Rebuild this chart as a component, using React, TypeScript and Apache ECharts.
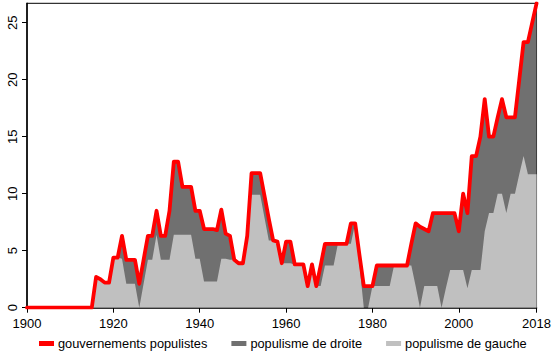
import React, { useEffect, useRef } from "react";
import * as echarts from "echarts";

// Years 1900..2018 (x categories)
const years: number[] = Array.from({ length: 119 }, (_, i) => 1900 + i);

// Total populist governments (red line), one value per year 1900..2018
const totalValues: number[] = [
  0, 0, 0, 0, 0, 0, 0, 0, 0, 0, 0, 0, 0, 0, 0, 0,
  2.7, 2.5, 2.2, 2.2, 4.4, 4.4, 6.3, 4.2, 4.2, 4.2, 2.1, 4.2, 6.3, 6.3,
  8.5, 6.3, 6.3, 8.5, 12.8, 12.8, 10.6, 10.6, 10.6, 8.5,
  8.5, 6.9, 6.9, 6.9, 6.8, 8.6, 6.5, 6.3, 4.2, 3.9,
  3.9, 6.3, 11.8, 11.8, 11.8, 9.8, 7.8, 5.9, 5.8, 3.9,
  5.8, 5.8, 3.8, 3.8, 3.8, 1.9, 3.8, 1.9, 3.7, 5.6,
  5.6, 5.6, 5.6, 5.6, 5.6, 7.4, 7.4, 4.6, 1.9, 1.9,
  1.9, 3.7, 3.7, 3.7, 3.7, 3.7, 3.7, 3.7, 3.7, 5.6,
  7.4, 7.1, 6.9, 6.7, 8.3, 8.3, 8.3, 8.3, 8.3, 8.3,
  6.7, 10.0, 8.3, 13.3, 13.3, 15.0, 18.3, 15.0, 15.0, 16.7,
  18.3, 16.7, 16.7, 16.7, 20.0, 23.3, 23.3, 25.0, 26.7,
];

// Left-wing populism (light grey area, bottom of stack)
const gaucheValues: number[] = [
  0, 0, 0, 0, 0, 0, 0, 0, 0, 0, 0, 0, 0, 0, 0, 0,
  2.7, 2.5, 2.2, 2.2, 4.4, 4.4, 4.3, 2.1, 2.1, 2.1, 0, 2.1, 4.2, 4.2,
  6.4, 4.2, 4.2, 4.2, 6.4, 6.4, 6.4, 6.4, 6.4, 4.3,
  4.3, 2.3, 2.3, 2.3, 2.3, 4.3, 4.3, 4.2, 4.2, 3.9,
  3.9, 6.3, 9.9, 9.9, 9.9, 7.9, 5.9, 5.9, 5.8, 3.9,
  3.9, 3.9, 3.8, 3.8, 3.8, 1.9, 3.8, 1.9, 1.9, 3.7,
  3.7, 3.7, 5.6, 5.6, 5.6, 5.6, 7.4, 3.7, 0, 0,
  1.9, 1.9, 1.9, 1.9, 1.9, 3.7, 3.7, 3.7, 3.7, 3.7,
  1.9, 0, 1.9, 1.9, 1.9, 1.9, 0, 1.7, 3.3, 3.3,
  3.3, 3.3, 1.7, 3.3, 3.3, 3.3, 6.7, 8.3, 8.3, 10.0,
  10.0, 8.3, 10.0, 10.0, 11.7, 13.3, 11.7, 11.7, 11.7,
];

// Right-wing populism (dark grey) = total minus left-wing
const droiteValues: number[] = totalValues.map((t, i) =>
  Math.max(0, Math.round((t - gaucheValues[i]) * 10) / 10)
);

const xTicks: number[] = [1900, 1920, 1940, 1960, 1980, 2000, 2018];
const yTicks: number[] = [0, 5, 10, 15, 20, 25];

const seriesNames = [
  "gouvernements populistes",
  "populisme de droite",
  "populisme de gauche",
];

const FONT = "'Liberation Sans', Arial, sans-serif";

export default function App() {
  const ref = useRef<HTMLDivElement>(null);

  useEffect(() => {
    if (!ref.current) return;
    const chart = echarts.init(ref.current, undefined, { renderer: "svg" });
    const pair = (arr: number[]) => years.map((y, i) => [y, arr[i]]);
    // manual stack: droite sits on top of gauche
    const droiteTop = gaucheValues.map((g, i) => Math.round((g + droiteValues[i]) * 10) / 10);

    chart.setOption({
      animation: false,
      backgroundColor: "#ffffff",
      grid: {
        left: 27,
        right: 16,
        top: 3.3,
        bottom: 45.3,
        show: true,
        borderColor: "#000",
        borderWidth: 1,
        backgroundColor: "transparent",
      },
      legend: {
        left: 34,
        top: 332,
        itemGap: 24,
        itemWidth: 15,
        itemHeight: 5,
        icon: "rect",
        data: seriesNames,
        textStyle: { fontFamily: FONT, fontSize: 12.8, color: "#000", padding: [0, 0, 0, -1] },
      },
      xAxis: {
        type: "value",
        min: 1900,
        max: 2018,
        splitLine: { show: false },
        axisLine: { show: true, lineStyle: { color: "#000", width: 1.5 } },
        axisTick: { show: true, length: 5, lineStyle: { color: "#000" }, customValues: xTicks },
        axisLabel: {
          customValues: xTicks,
          fontFamily: FONT,
          fontSize: 13,
          color: "#000",
          margin: 9,
          formatter: (v: number) => String(v),
        },
      },
      yAxis: {
        type: "value",
        min: 0,
        max: 26.7,
        splitLine: { show: false },
        axisLine: { show: true, lineStyle: { color: "#000", width: 1.5 } },
        axisTick: { show: true, length: 5, lineStyle: { color: "#000" }, customValues: yTicks },
        axisLabel: {
          customValues: yTicks,
          rotate: 90,
          fontFamily: FONT,
          fontSize: 13,
          color: "#000",
          margin: 8,
          formatter: (v: number) => String(v),
        },
      },
      series: [
        {
          name: seriesNames[1],
          type: "line",
          data: pair(droiteTop),
          showSymbol: false,
          symbol: "none",
          lineStyle: { width: 0 },
          itemStyle: { color: "#707070" },
          areaStyle: { color: "#707070", opacity: 1 },
          z: 1,
        },
        {
          name: seriesNames[2],
          type: "line",
          data: pair(gaucheValues),
          showSymbol: false,
          symbol: "none",
          lineStyle: { width: 0 },
          itemStyle: { color: "#c0c0c0" },
          areaStyle: { color: "#c0c0c0", opacity: 1 },
          z: 2,
        },
        {
          name: seriesNames[0],
          type: "line",
          data: pair(totalValues),
          showSymbol: false,
          symbol: "none",
          itemStyle: { color: "#ff0000" },
          lineStyle: { color: "#ff0000", width: 3.8, join: "round", cap: "round" },
          z: 3,
        },
      ],
    });

    return () => chart.dispose();
  }, []);

  return (
    <div
      ref={ref}
      style={{ position: "fixed", left: 0, top: 0, width: 554, height: 353 }}
    />
  );
}
